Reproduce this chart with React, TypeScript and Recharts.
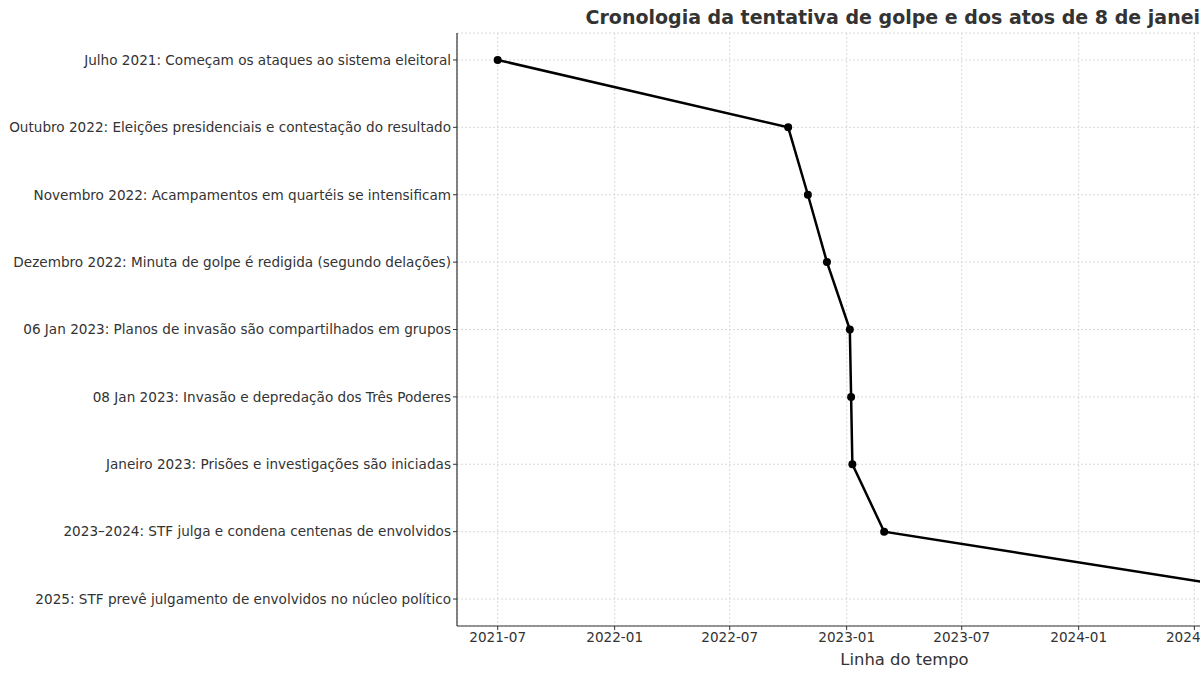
import { CartesianGrid, Line, LineChart, XAxis, YAxis } from "recharts";

const EVENTS = [
  "Julho 2021: Começam os ataques ao sistema eleitoral",
  "Outubro 2022: Eleições presidenciais e contestação do resultado",
  "Novembro 2022: Acampamentos em quartéis se intensificam",
  "Dezembro 2022: Minuta de golpe é redigida (segundo delações)",
  "06 Jan 2023: Planos de invasão são compartilhados em grupos",
  "08 Jan 2023: Invasão e depredação dos Três Poderes",
  "Janeiro 2023: Prisões e investigações são iniciadas",
  "2023–2024: STF julga e condena centenas de envolvidos",
  "2025: STF prevê julgamento de envolvidos no núcleo político",
];
const DATES = [
  "2021-07-01", "2022-10-01", "2022-11-01", "2022-12-01", "2023-01-06",
  "2023-01-08", "2023-01-10", "2023-03-01", "2025-01-01",
];
const X_TICKS = [
  "2021-07-01", "2022-01-01", "2022-07-01", "2023-01-01",
  "2023-07-01", "2024-01-01", "2024-07-01", "2025-01-01",
];

const ts = (d: string) => Date.parse(d + "T00:00:00Z");
const fmt = (v: number) => new Date(v).toISOString().slice(0, 7);

const data = EVENTS.map((e, i) => ({ t: ts(DATES[i]), idx: i, label: e }));
const first = ts(DATES[0]);
const last = ts(DATES[DATES.length - 1]);
const pad = (last - first) * 0.05;

const FONT = "DejaVu Sans, sans-serif";
const INK = "#333";

export default function App() {
  return (
    <div style={{ position: "fixed", left: 0, top: 0, width: 1200, height: 675, overflow: "hidden", background: "#fff", fontFamily: FONT }}>
      <div style={{ position: "absolute", left: 904, top: 6, transform: "translateX(-50%)", whiteSpace: "nowrap", fontSize: 19, fontWeight: "bold", color: INK }}>
        Cronologia da tentativa de golpe e dos atos de 8 de janeiro
      </div>
      <div style={{ position: "absolute", left: 0, top: 0 }}>
        <LineChart width={1400} height={675} data={data} margin={{ top: 33, right: 48, bottom: 0, left: 0 }}>
          <CartesianGrid stroke="#d8d8d8" strokeDasharray="2 2" />
          <XAxis
            dataKey="t"
            type="number"
            domain={[first - pad, last + pad]}
            ticks={X_TICKS.map(ts)}
            tickFormatter={fmt}
            height={49}
            tickSize={4}
            tickMargin={2}
            stroke={INK}
            tick={{ fill: INK, fontSize: 13.6, fontFamily: FONT }}
            axisLine={{ stroke: INK, strokeWidth: 1.2 }}
            label={{ value: "Linha do tempo", position: "insideBottom", offset: 10, fill: INK, fontSize: 16.4, fontFamily: FONT }}
          />
          <YAxis
            dataKey="idx"
            type="number"
            reversed
            domain={[-0.4, 8.4]}
            ticks={EVENTS.map((_, i) => i)}
            tickFormatter={(v: number) => EVENTS[v] ?? ""}
            width={457}
            tickSize={4}
            tickMargin={2}
            stroke={INK}
            tick={{ fill: INK, fontSize: 13.6, fontFamily: FONT }}
            axisLine={{ stroke: INK, strokeWidth: 1.2 }}
            interval={0}
          />
          <Line
            type="linear"
            dataKey="idx"
            stroke="#000"
            strokeWidth={2.5}
            dot={{ r: 4, fill: "#000", stroke: "#000", strokeWidth: 0 }}
            isAnimationActive={false}
          />
        </LineChart>
      </div>
    </div>
  );
}
